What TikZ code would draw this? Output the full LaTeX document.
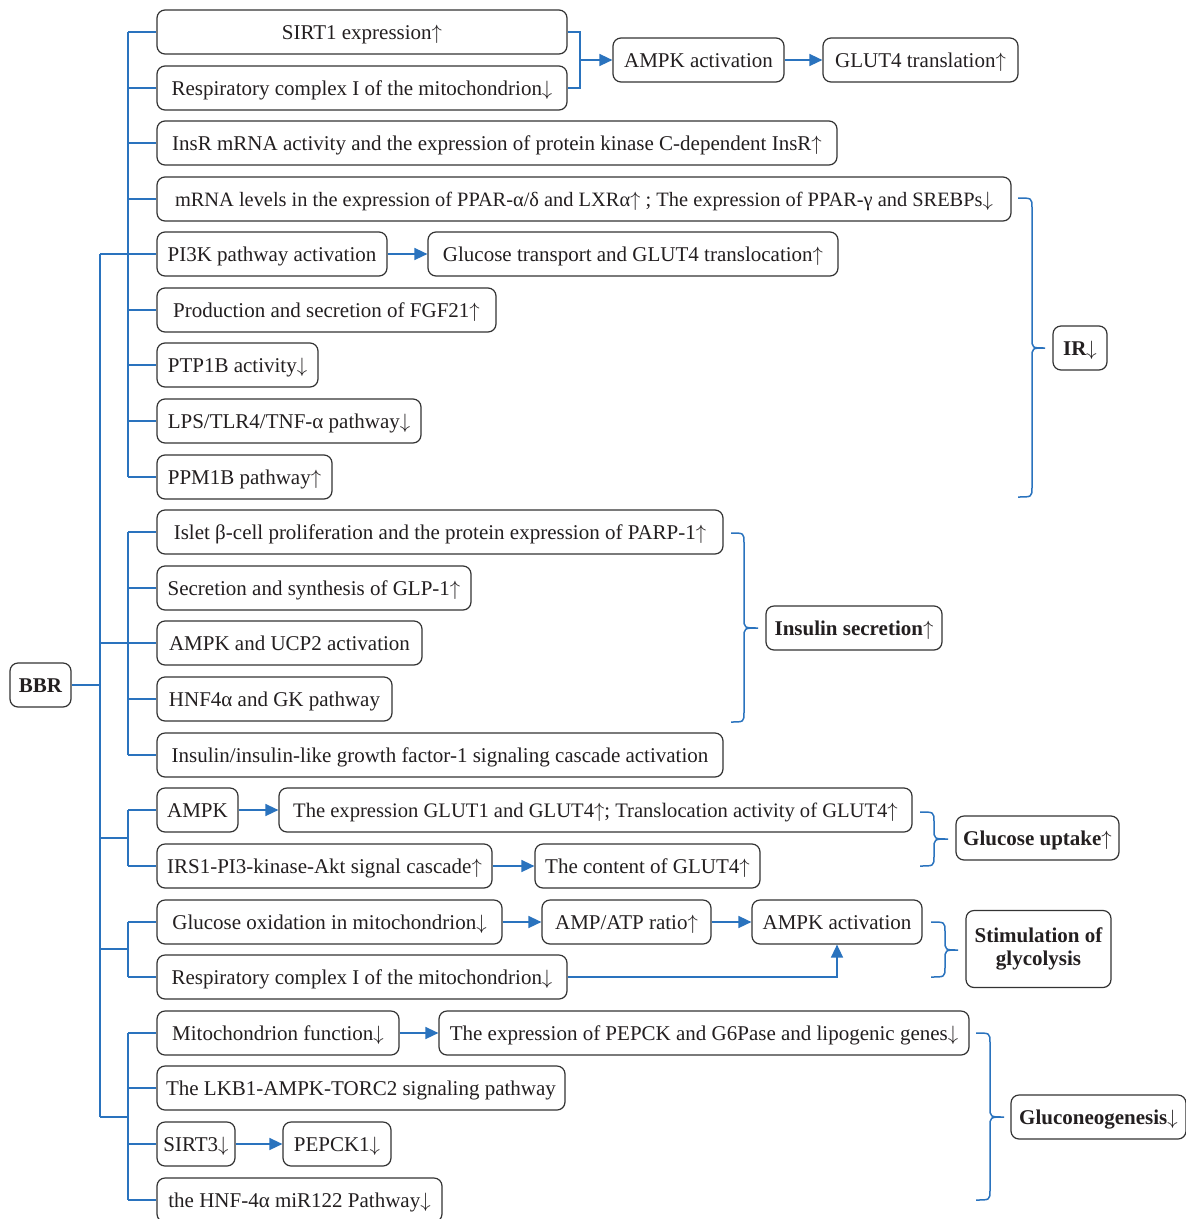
\documentclass[tikz,border=0pt]{standalone}
\usepackage{fontspec}
\setmainfont{Liberation Serif}
\usetikzlibrary{arrows.meta}
\definecolor{lblue}{HTML}{2A73BE}
\definecolor{bord}{HTML}{333333}
\definecolor{txt}{HTML}{231F20}
\newcommand\ua{\ensuremath{\uparrow}}
\newcommand\da{\ensuremath{\downarrow}}
\newcommand\mybox[6][]{\node[bx,#1,minimum width={#4-#3}] (#2) at ({(#3+#4)/2},#5) {#6};}
\newcommand\mybrace[6]{\draw[conn] (#1,#4) .. controls (#2,#4) .. (#2,#4+10) -- (#2,#5-10) .. controls (#2,#5) .. (#3,#5) .. controls (#2,#5) .. (#2,#5+10) -- (#2,#6-10) .. controls (#2,#6) .. (#1,#6);}
\begin{document}
\begin{tikzpicture}[x=1pt,y=-1pt,
  boxbase/.style={draw=bord, line width=1.2pt, rounded corners=8pt, minimum height=44pt,
    inner xsep=3pt, inner ysep=2pt, font=\fontsize{21}{23}\selectfont, text=txt, align=center},
  bx/.style={boxbase, text height=14pt, text depth=0pt},
  bbx/.style={font=\fontsize{21}{23}\selectfont\bfseries},
  conn/.style={draw=lblue, line width=1.5pt},
  arr/.style={conn, -{Triangle[length=13pt,width=12pt]}}]
\fill[white] (0,0) rectangle (1186,1219);
\useasboundingbox (0,0) rectangle (1186,1219);
% left column boxes
\mybox{sirt}{157}{567}{32}{SIRT1 expression\ua}
\mybox{resa}{157}{567}{88}{Respiratory complex I of the mitochondrion\da}
\mybox{insr}{157}{837}{143}{InsR mRNA activity and the expression of protein kinase C-dependent InsR\ua}
\mybox[font=\fontsize{20.4}{23}\selectfont]{mrna}{157}{1011}{199}{mRNA levels in the expression of PPAR-α/δ and LXRα\ua\ ; The expression of PPAR-γ and SREBPs\da}
\mybox{pi3k}{157}{387}{254}{PI3K pathway activation}
\mybox{glut}{428}{838}{254}{Glucose transport and GLUT4 translocation\ua}
\mybox{fgf}{157}{496}{310}{Production and secretion of FGF21\ua}
\mybox{ptp}{157}{318}{365}{PTP1B activity\da}
\mybox{lps}{157}{421}{421}{LPS/TLR4/TNF-α pathway\da}
\mybox{ppm}{157}{332}{477}{PPM1B pathway\ua}
\mybox{islet}{157}{723}{532}{Islet β-cell proliferation and the protein expression of PARP-1\ua}
\mybox{glp}{157}{471}{588}{Secretion and synthesis of GLP-1\ua}
\mybox{ucp}{157}{422}{643}{AMPK and UCP2 activation}
\mybox{hnf}{157}{392}{699}{HNF4α and GK pathway}
\mybox{igf}{157}{723}{755}{Insulin/insulin-like growth factor-1 signaling cascade activation}
\mybox{ampk}{157}{238}{810}{AMPK}
\mybox[font=\fontsize{20.6}{23}\selectfont]{expr}{279}{912}{810}{The expression GLUT1 and GLUT4\ua; Translocation activity of GLUT4\ua}
\mybox{irs}{157}{492}{866}{IRS1-PI3-kinase-Akt signal cascade\ua}
\mybox{cont}{535}{760}{866}{The content of GLUT4\ua}
\mybox{gox}{157}{502}{922}{Glucose oxidation in mitochondrion\da}
\mybox{ratio}{542}{711}{922}{AMP/ATP ratio\ua}
\mybox{ampkb}{752}{922}{922}{AMPK activation}
\mybox{resb}{157}{567}{977}{Respiratory complex I of the mitochondrion\da}
\mybox{mito}{157}{399}{1033}{Mitochondrion function\da}
\mybox{pepck}{439}{969}{1033}{The expression of PEPCK and G6Pase and lipogenic genes\da}
\mybox{lkb}{157}{565}{1088}{The LKB1-AMPK-TORC2 signaling pathway}
\mybox{sirtc}{157}{235}{1144}{SIRT3\da}
\mybox{pepcka}{283}{391}{1144}{PEPCK1\da}
\mybox{hnfm}{157}{442}{1200}{the HNF-4α miR122 Pathway\da}
\mybox{ampka}{613}{784}{60}{AMPK activation}
\mybox{gltt}{823}{1018}{60}{GLUT4 translation\ua}
% bold boxes
\mybox[bbx]{bbr}{10}{71}{685}{BBR}
\mybox[bbx]{ir}{1053}{1107}{348}{IR\da}
\mybox[bbx]{ins}{766}{942}{628}{Insulin secretion\ua}
\mybox[bbx]{gup}{956}{1119}{838}{Glucose uptake\ua}
\node[boxbase,bbx,minimum height=77pt,minimum width=145pt] (gly) at (1038.5,949) {Stimulation of\\glycolysis};
\mybox[bbx]{gng}{1011}{1186}{1117}{Gluconeogenesis\da}
% spines
\coordinate (sM) at (100,0);
\coordinate (sA) at (128,0);
\draw[conn] (bbr.east) -- (sM |- bbr.east);
\draw[conn] (sM |- pi3k.west) -- (sM |- gng.west);
% group 1
\draw[conn] (sA |- sirt.west) -- (sA |- ppm.west);
\foreach \n in {sirt,resa,insr,mrna,pi3k,fgf,ptp,lps,ppm} \draw[conn] (sA |- \n.west) -- (\n.west);
\draw[conn] (sM |- pi3k.west) -- (sA |- pi3k.west);
% group 2
\draw[conn] (sA |- islet.west) -- (sA |- igf.west);
\foreach \n in {islet,glp,ucp,hnf,igf} \draw[conn] (sA |- \n.west) -- (\n.west);
\draw[conn] (sM |- ucp.west) -- (sA |- ucp.west);
% group 3
\draw[conn] (sA |- ampk.west) -- (sA |- irs.west);
\foreach \n in {ampk,irs} \draw[conn] (sA |- \n.west) -- (\n.west);
\draw[conn] (sM |- gup.west) -- (sA |- gup.west);
% group 4
\draw[conn] (sA |- gox.west) -- (sA |- resb.west);
\foreach \n in {gox,resb} \draw[conn] (sA |- \n.west) -- (\n.west);
\draw[conn] (sM |- gly.west) -- (sA |- gly.west);
% group 5
\draw[conn] (sA |- mito.west) -- (sA |- hnfm.west);
\foreach \n in {mito,lkb,sirtc,hnfm} \draw[conn] (sA |- \n.west) -- (\n.west);
\draw[conn] (sM |- gng.west) -- (sA |- gng.west);
% top bracket and arrows
\coordinate (j1) at (580,60);
\draw[conn] (sirt.east) -| (j1) |- (resa.east);
\draw[arr] (j1) -- (ampka.west);
\draw[arr] (ampka.east) -- (gltt.west);
\draw[arr] (pi3k.east) -- (glut.west);
\draw[arr] (ampk.east) -- (expr.west);
\draw[arr] (irs.east) -- (cont.west);
\draw[arr] (gox.east) -- (ratio.west);
\draw[arr] (ratio.east) -- (ampkb.west);
\draw[arr] (resb.east) -| (ampkb.south);
\draw[arr] (mito.east) -- (pepck.west);
\draw[arr] (sirtc.east) -- (pepcka.west);
% braces
\mybrace{1018}{1032}{1045}{198}{348}{497}
\mybrace{731}{744}{758}{533}{628}{722}
\mybrace{920}{934}{948}{812}{839}{866}
\mybrace{931}{945}{958}{922}{950}{977}
\mybrace{976}{990}{1004}{1033}{1117}{1200}
\end{tikzpicture}
\end{document}
